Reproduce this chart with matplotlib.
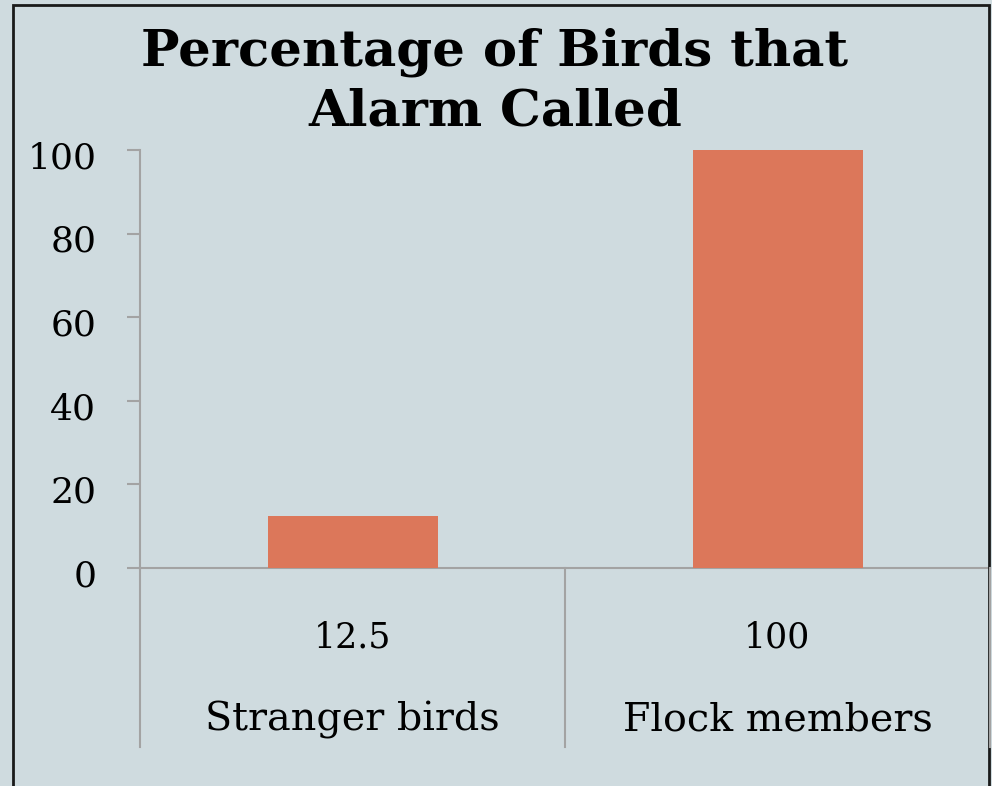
import matplotlib
matplotlib.use("Agg")
import matplotlib.pyplot as plt
from matplotlib.patches import Rectangle
from matplotlib.lines import Line2D
import matplotlib.transforms as mtransforms

categories = ["Stranger birds", "Flock members"]
values = [12.5, 100]
value_labels = ["12.5", "100"]
yticks = [0, 20, 40, 60, 80, 100]
title = "Percentage of Birds that\nAlarm Called"

BG = "#cfdbdf"
BAR = "#dc775a"
GRID = "#a3a3a3"

W, H = 992, 786
fig = plt.figure(figsize=(W / 100, H / 100), dpi=100, facecolor=BG)

def fx(px):
    return px / W

def fy(py):
    return 1 - py / H

ax = fig.add_axes([fx(140), fy(568), fx(990) - fx(140), fy(150) - fy(568)])
ax.set_facecolor(BG)

x = list(range(len(categories)))
ax.bar(x, values, width=0.4, color=BAR, zorder=3)
ax.set_xlim(-0.5, len(categories) - 0.5)
ax.set_ylim(0, 100)

ax.set_yticks(yticks)
ax.set_yticklabels([str(t) for t in yticks], fontfamily="DejaVu Serif", fontsize=26)
ax.tick_params(axis="y", length=9.5, width=1.5, color=GRID, pad=22)
shift = mtransforms.ScaledTranslation(0, -6 / 72, fig.dpi_scale_trans)
for lbl in ax.get_yticklabels():
    lbl.set_verticalalignment("center")
    lbl.set_transform(lbl.get_transform() + shift)
ax.set_xticks([])

for s in ["top", "right"]:
    ax.spines[s].set_visible(False)
ax.spines["left"].set_color(GRID)
ax.spines["left"].set_linewidth(1.5)
ax.spines["bottom"].set_color(GRID)
ax.spines["bottom"].set_linewidth(1.5)

# Category dividers extending below the axis
trans = mtransforms.blended_transform_factory(ax.transData, fig.transFigure)
for b in [-0.5 + i for i in range(len(categories) + 1)]:
    fig.add_artist(Line2D([b, b], [fy(747), fy(568)], transform=trans,
                          color=GRID, linewidth=1.5, clip_on=False))

# Data table row and category labels
for i, (cat, lab) in enumerate(zip(categories, value_labels)):
    fig.text(i, fy(637), lab, transform=trans, ha="center", va="center",
             fontfamily="DejaVu Serif", fontsize=25)
    fig.text(i, fy(720), cat, transform=trans, ha="center", va="center",
             fontfamily="DejaVu Serif", fontsize=28.5)

fig.text(fx(495), fy(82), title, ha="center", va="center",
         fontfamily="DejaVu Serif", fontweight="bold", fontsize=37,
         linespacing=1.3)

# Outer frame
fig.add_artist(Rectangle((fx(13), -0.2), fx(989) - fx(13), fy(5) + 0.2,
                         transform=fig.transFigure, fill=False,
                         edgecolor="#1a1a1a", linewidth=2, clip_on=False))

fig.savefig("out.png", dpi=100, facecolor=BG)
